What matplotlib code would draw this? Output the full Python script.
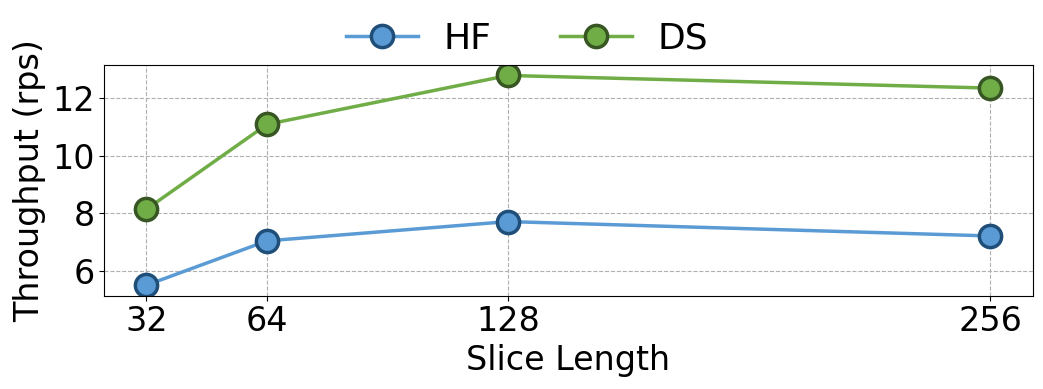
import matplotlib
matplotlib.use("Agg")
import matplotlib.pyplot as plt

slice_lengths = [32, 64, 128, 256]
hf_values = [5.50, 7.04, 7.71, 7.21]
ds_values = [8.14, 11.09, 12.79, 12.35]
series_names = ["HF", "DS"]

fig, ax = plt.subplots(figsize=(10.43, 3.89), dpi=100)
ax.plot(slice_lengths, hf_values, '-o', color='#5B9BD5', lw=2.5, ms=16,
        mfc='#5B9BD5', mec='#1F4E79', mew=2.5, label=series_names[0])
ax.plot(slice_lengths, ds_values, '-o', color='#70AD47', lw=2.5, ms=16,
        mfc='#70AD47', mec='#375623', mew=2.5, label=series_names[1])
ax.set_xticks(slice_lengths)
ax.set_xticklabels([str(v) for v in slice_lengths])
ax.set_yticks([6, 8, 10, 12])
ax.tick_params(labelsize=24)
ax.set_xlabel("Slice Length", fontsize=24)
ax.set_ylabel("Throughput (rps)", fontsize=24)
ax.grid(True, linestyle='--', color='#b0b0b0', lw=0.8)
fig.legend(loc='center', bbox_to_anchor=(0.505, 0.9), ncol=2, frameon=False,
           fontsize=26, handlelength=2.0, handletextpad=0.7, columnspacing=1.9)
fig.subplots_adjust(left=0.1, right=0.99, top=0.833, bottom=0.24)
fig.savefig("out.png", dpi=100)
